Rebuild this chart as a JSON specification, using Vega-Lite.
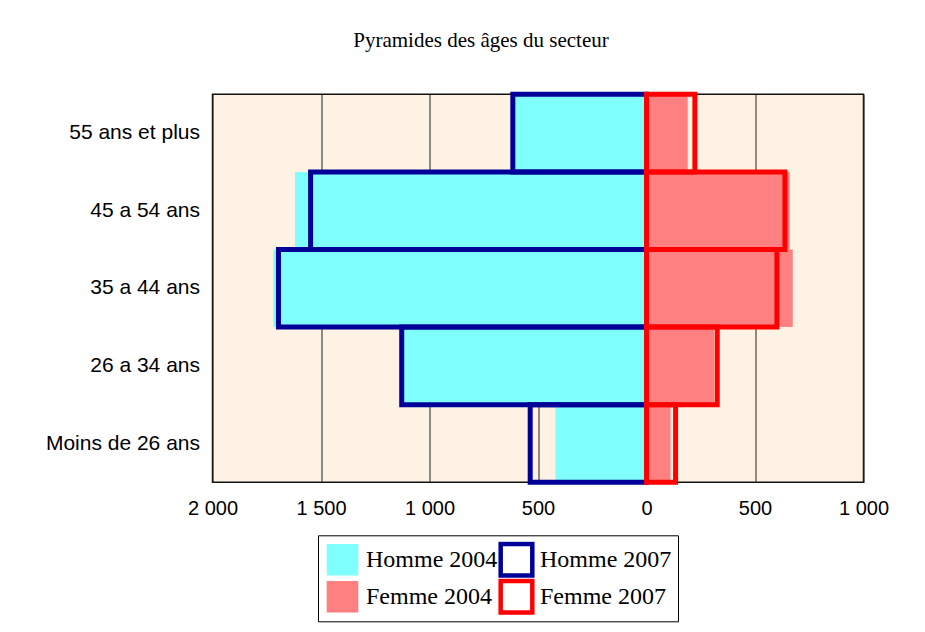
{
  "$schema": "https://vega.github.io/schema/vega-lite/v6.json",
  "autosize": {"type": "none"},
  "padding": {"left": 212.5, "top": 94.3, "right": 61.5, "bottom": 149.7},
  "width": 651,
  "height": 388,
  "background": "white",
  "title": {
    "text": "Pyramides des âges du secteur",
    "font": "Liberation Serif",
    "fontSize": 21,
    "fontWeight": "normal",
    "color": "black",
    "anchor": "middle",
    "frame": "group",
    "dx": -57,
    "offset": 24,
    "baseline": "alphabetic"
  },
  "data": {
    "values": [
      {"age": "55 ans et plus", "series": "Homme 2004", "value": -615},
      {"age": "45 a 54 ans", "series": "Homme 2004", "value": -1620},
      {"age": "35 a 44 ans", "series": "Homme 2004", "value": -1720},
      {"age": "26 a 34 ans", "series": "Homme 2004", "value": -1122},
      {"age": "Moins de 26 ans", "series": "Homme 2004", "value": -420},
      {"age": "55 ans et plus", "series": "Femme 2004", "value": 190},
      {"age": "45 a 54 ans", "series": "Femme 2004", "value": 660},
      {"age": "35 a 44 ans", "series": "Femme 2004", "value": 674},
      {"age": "26 a 34 ans", "series": "Femme 2004", "value": 312},
      {"age": "Moins de 26 ans", "series": "Femme 2004", "value": 111},
      {"age": "55 ans et plus", "series": "Homme 2007", "value": -616},
      {"age": "45 a 54 ans", "series": "Homme 2007", "value": -1548},
      {"age": "35 a 44 ans", "series": "Homme 2007", "value": -1696},
      {"age": "26 a 34 ans", "series": "Homme 2007", "value": -1128},
      {"age": "Moins de 26 ans", "series": "Homme 2007", "value": -536},
      {"age": "55 ans et plus", "series": "Femme 2007", "value": 223},
      {"age": "45 a 54 ans", "series": "Femme 2007", "value": 638},
      {"age": "35 a 44 ans", "series": "Femme 2007", "value": 601},
      {"age": "26 a 34 ans", "series": "Femme 2007", "value": 326},
      {"age": "Moins de 26 ans", "series": "Femme 2007", "value": 134}
    ]
  },
  "mark": {"type": "bar", "strokeWidth": 5, "opacity": 1, "fillOpacity": 1, "strokeOpacity": 1},
  "encoding": {
    "y": {
      "field": "age",
      "type": "nominal",
      "sort": ["55 ans et plus", "45 a 54 ans", "35 a 44 ans", "26 a 34 ans", "Moins de 26 ans"],
      "scale": {"paddingInner": 0, "paddingOuter": 0},
      "axis": {
        "title": null,
        "ticks": false,
        "domain": false,
        "labelFont": "Liberation Sans",
        "labelFontSize": 21,
        "labelColor": "black",
        "labelPadding": 13
      }
    },
    "x": {
      "field": "value",
      "type": "quantitative",
      "stack": null,
      "scale": {"domain": [-2000, 1000], "nice": false, "zero": false},
      "axis": {
        "title": null,
        "values": [-2000, -1500, -1000, -500, 0, 500, 1000],
        "labelExpr": "replace(format(abs(datum.value), ','), ',', ' ')",
        "labelFont": "Liberation Sans",
        "labelFontSize": 20,
        "labelColor": "black",
        "labelFlush": false,
        "labelPadding": 16,
        "ticks": false,
        "domain": false,
        "grid": true,
        "gridColor": "#222222",
        "gridWidth": 1,
        "gridOpacity": 1
      }
    },
    "fill": {
      "field": "series",
      "type": "nominal",
      "scale": {
        "domain": ["Homme 2004", "Homme 2007", "Femme 2004", "Femme 2007"],
        "range": ["#80FFFF", "transparent", "#FF8080", "transparent"]
      },
      "legend": {
        "title": null,
        "orient": "none",
        "legendX": 105.5,
        "legendY": 441,
        "columns": 2,
        "direction": "horizontal",
        "symbolType": "square",
        "symbolSize": 1000,
        "symbolStrokeWidth": 4.5,
        "symbolOpacity": 1,
        "labelFont": "Liberation Serif",
        "labelFontSize": 24,
        "labelColor": "black",
        "labelOffset": 5,
        "labelLimit": 300,
        "clipHeight": 37,
        "columnPadding": -10,
        "rowPadding": 0,
        "padding": 6,
        "strokeColor": "black",
        "fillColor": "white"
      }
    },
    "stroke": {
      "field": "series",
      "type": "nominal",
      "scale": {
        "domain": ["Homme 2004", "Homme 2007", "Femme 2004", "Femme 2007"],
        "range": ["transparent", "#000099", "transparent", "#FF0000"]
      },
      "legend": {
        "title": null,
        "orient": "none",
        "legendX": 105.5,
        "legendY": 441,
        "columns": 2,
        "direction": "horizontal",
        "symbolType": "square",
        "symbolSize": 1000,
        "symbolStrokeWidth": 4.5,
        "labelFont": "Liberation Serif",
        "labelFontSize": 24,
        "labelColor": "black",
        "labelOffset": 5,
        "labelLimit": 300,
        "clipHeight": 37,
        "columnPadding": -10,
        "rowPadding": 0,
        "padding": 6,
        "strokeColor": "black",
        "fillColor": "white"
      }
    },
    "order": {"value": 0}
  },
  "config": {
    "view": {"fill": "#FDF2E3", "stroke": "#111111", "strokeWidth": 1.5}
  }
}
